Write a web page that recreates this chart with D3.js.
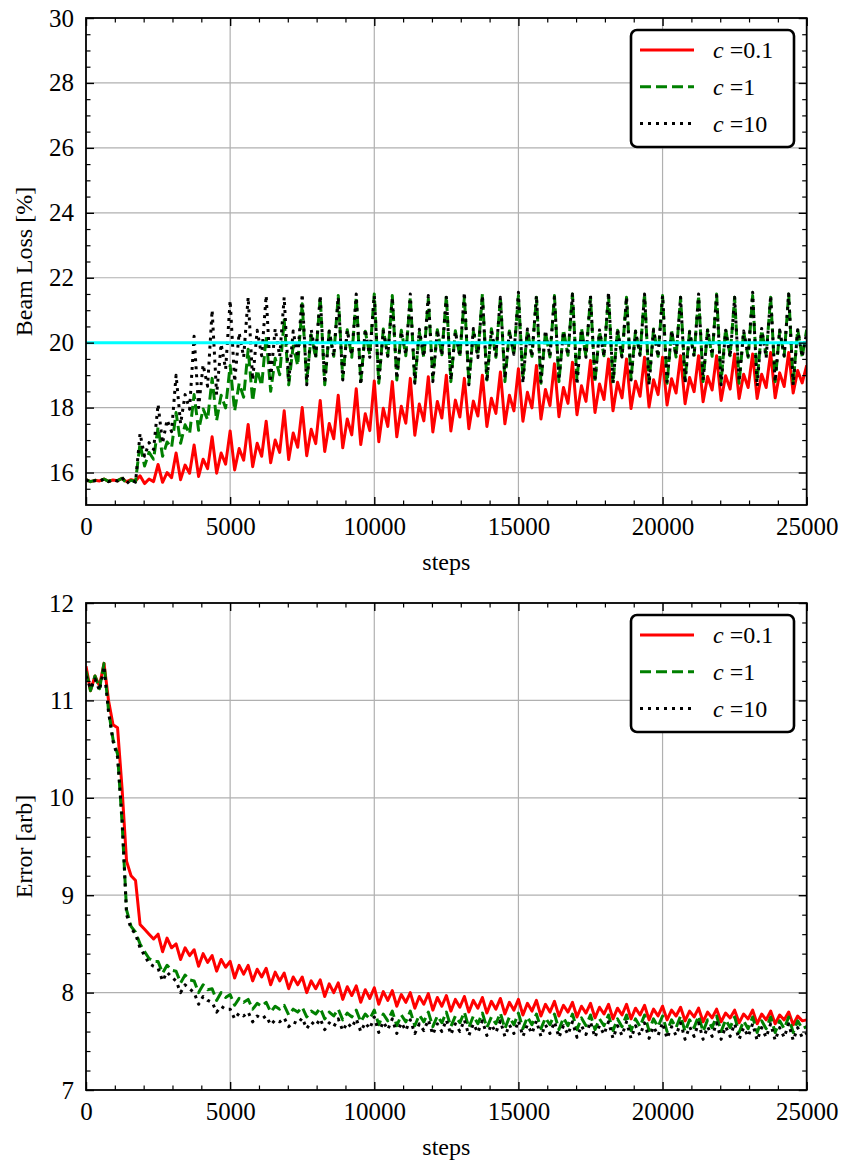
<!DOCTYPE html>
<html>
<head>
<meta charset="utf-8">
<script src="https://cdn.jsdelivr.net/npm/d3@7/dist/d3.min.js"></script>
<style>
  body { margin: 0; background: #fff; }
  text { font-family: "Liberation Serif", "DejaVu Serif", serif; fill: #000; }
</style>
</head>
<body>
<div id="chart"></div>
<script>
// DATA ----------------------------------------------
// runs are sampled every 156.25 steps (4 samples per 625 step cycle)
const steps = d3.range(161).map(i => i * 156.25);
const cValues = ["0.1", "1", "10"];
const targetLoss = 20;

const lossRed = [
  15.78, 15.72, 15.76, 15.74, 15.80, 15.73, 15.77, 15.75,
  15.82, 15.72, 15.78, 15.74, 15.90, 15.66, 15.80, 15.72,
  16.25, 15.70, 16.00, 15.84, 16.60, 15.78, 16.23, 15.98,
  16.85, 15.88, 16.41, 16.12, 17.10, 15.98, 16.60, 16.26,
  17.28, 16.08, 16.74, 16.38, 17.48, 16.18, 16.90, 16.50,
  17.58, 16.30, 17.00, 16.62, 17.90, 16.40, 17.22, 16.78,
  18.00, 16.52, 17.33, 16.89, 18.22, 16.65, 17.51, 17.04,
  18.38, 16.76, 17.65, 17.16, 18.58, 16.86, 17.81, 17.29,
  18.82, 16.95, 17.98, 17.42, 18.80, 17.10, 18.04, 17.52,
  18.90, 17.15, 18.11, 17.59, 18.95, 17.25, 18.19, 17.68,
  19.00, 17.28, 18.23, 17.71, 18.90, 17.35, 18.20, 17.74,
  19.00, 17.42, 18.29, 17.82, 19.10, 17.50, 18.38, 17.90,
  19.20, 17.58, 18.47, 17.99, 19.30, 17.65, 18.56, 18.06,
  19.35, 17.72, 18.62, 18.13, 19.40, 17.78, 18.67, 18.19,
  19.45, 17.85, 18.73, 18.25, 19.50, 17.90, 18.78, 18.30,
  19.50, 17.97, 18.81, 18.35, 19.55, 18.02, 18.86, 18.40,
  19.55, 18.08, 18.89, 18.45, 19.60, 18.12, 18.93, 18.49,
  19.60, 18.18, 18.96, 18.54, 19.60, 18.22, 18.98, 18.57,
  19.65, 18.28, 19.03, 18.62, 19.65, 18.28, 19.03, 18.62,
  19.70, 18.30, 19.07, 18.65, 19.70, 18.45, 19.14, 18.76,
  19.30];
const lossGreen = [
  15.78, 15.72, 15.76, 15.74, 15.80, 15.73, 15.77, 15.75,
  15.82, 15.68, 15.76, 15.72, 16.90, 16.20, 16.62, 16.41,
  17.40, 16.50, 16.94, 16.77, 17.85, 16.90, 17.47, 17.19,
  18.40, 17.30, 17.96, 17.63, 18.90, 17.60, 18.38, 17.99,
  19.30, 17.90, 18.74, 18.32, 19.80, 18.20, 19.16, 18.68,
  20.20, 18.50, 19.52, 19.01, 20.70, 18.70, 19.90, 19.30,
  21.20, 18.80, 20.24, 19.52, 21.40, 18.70, 20.36, 19.58,
  21.45, 18.90, 20.40, 19.55, 21.40, 18.80, 20.35, 19.62,
  21.50, 18.75, 20.42, 19.58, 21.45, 18.85, 20.38, 19.60,
  21.40, 18.80, 20.32, 19.55, 21.35, 18.90, 20.40, 19.63,
  21.45, 18.80, 20.37, 19.57, 21.40, 18.75, 20.34, 19.60,
  21.50, 18.85, 20.43, 19.55, 21.40, 18.80, 20.36, 19.62,
  21.45, 18.90, 20.39, 19.58, 21.40, 18.75, 20.33, 19.56,
  21.45, 18.80, 20.40, 19.61, 21.50, 18.85, 20.44, 19.57,
  21.40, 18.80, 20.35, 19.60, 21.45, 18.75, 20.38, 19.55,
  21.40, 18.90, 20.36, 19.63, 21.50, 18.80, 20.42, 19.58,
  21.45, 18.75, 20.37, 19.56, 21.40, 18.85, 20.35, 19.61,
  21.45, 18.80, 20.40, 19.58, 21.50, 18.80, 20.43, 19.60,
  21.40, 18.75, 20.34, 19.55, 21.45, 18.85, 20.39, 19.62,
  21.40, 18.80, 20.36, 19.58, 21.50, 18.75, 20.41, 19.57,
  20.40];
const lossBlack = [
  15.78, 15.70, 15.75, 15.73, 15.80, 15.72, 15.77, 15.74,
  15.85, 15.66, 15.78, 15.70, 17.20, 16.50, 16.92, 16.71,
  18.10, 16.90, 17.62, 17.26, 19.00, 17.50, 18.40, 17.95,
  20.20, 18.00, 19.32, 18.66, 21.00, 18.40, 19.96, 19.18,
  21.30, 18.80, 20.30, 19.55, 21.40, 18.85, 20.38, 19.60,
  21.45, 18.90, 20.43, 19.57, 21.40, 18.80, 20.36, 19.54,
  21.50, 18.70, 20.40, 19.60, 21.45, 18.75, 20.35, 19.58,
  21.40, 18.85, 20.38, 19.62, 21.50, 18.70, 20.42, 19.55,
  21.45, 18.80, 20.36, 19.59, 21.40, 18.90, 20.34, 19.63,
  21.50, 18.75, 20.41, 19.56, 21.45, 18.80, 20.39, 19.60,
  21.40, 18.85, 20.33, 19.58, 21.55, 18.70, 20.44, 19.54,
  21.45, 18.80, 20.37, 19.61, 21.40, 18.90, 20.35, 19.64,
  21.55, 18.75, 20.42, 19.57, 21.45, 18.80, 20.38, 19.59,
  21.40, 18.85, 20.34, 19.62, 21.50, 18.70, 20.41, 19.55,
  21.45, 18.80, 20.39, 19.58, 21.55, 18.75, 20.43, 19.56,
  21.40, 18.85, 20.35, 19.61, 21.50, 18.70, 20.40, 19.57,
  21.45, 18.80, 20.37, 19.60, 21.40, 18.75, 20.33, 19.58,
  21.50, 18.85, 20.42, 19.62, 21.45, 18.70, 20.38, 19.55,
  21.40, 18.80, 20.36, 19.59, 21.55, 18.65, 20.44, 19.53,
  21.45, 18.80, 20.39, 19.60, 21.50, 18.70, 20.40, 19.56,
  20.30];

const errRed = [
  11.35, 11.10, 11.25, 11.15, 11.38, 11.00, 10.75, 10.72,
  10.10, 9.35, 9.20, 9.15, 8.70, 8.65, 8.60, 8.55,
  8.60, 8.42, 8.56, 8.46, 8.50, 8.34, 8.46, 8.38,
  8.44, 8.27, 8.40, 8.31, 8.38, 8.22, 8.34, 8.26,
  8.32, 8.15, 8.28, 8.19, 8.28, 8.12, 8.24, 8.16,
  8.25, 8.08, 8.21, 8.12, 8.20, 8.04, 8.16, 8.08,
  8.16, 8.00, 8.12, 8.04, 8.13, 7.96, 8.09, 8.00,
  8.10, 7.93, 8.06, 7.97, 8.07, 7.90, 8.03, 7.94,
  8.05, 7.88, 8.01, 7.92, 8.02, 7.86, 7.98, 7.90,
  8.00, 7.84, 7.96, 7.88, 7.99, 7.82, 7.95, 7.86,
  7.97, 7.81, 7.93, 7.85, 7.96, 7.80, 7.92, 7.84,
  7.95, 7.79, 7.91, 7.83, 7.94, 7.78, 7.90, 7.82,
  7.93, 7.77, 7.89, 7.81, 7.92, 7.76, 7.88, 7.80,
  7.91, 7.76, 7.87, 7.80, 7.90, 7.75, 7.86, 7.79,
  7.89, 7.74, 7.85, 7.78, 7.88, 7.73, 7.84, 7.77,
  7.88, 7.73, 7.84, 7.77, 7.87, 7.72, 7.83, 7.76,
  7.86, 7.72, 7.82, 7.76, 7.85, 7.71, 7.81, 7.75,
  7.84, 7.70, 7.80, 7.74, 7.83, 7.70, 7.79, 7.74,
  7.82, 7.69, 7.78, 7.73, 7.82, 7.68, 7.78, 7.72,
  7.81, 7.68, 7.77, 7.72, 7.80, 7.67, 7.76, 7.71,
  7.72];
const errGreen = [
  11.30, 11.10, 11.25, 11.12, 11.38, 10.90, 10.60, 10.45,
  9.75, 8.85, 8.68, 8.62, 8.50, 8.42, 8.35, 8.32,
  8.32, 8.20, 8.28, 8.23, 8.22, 8.10, 8.18, 8.13,
  8.12, 8.00, 8.08, 8.03, 8.04, 7.92, 8.00, 7.95,
  7.98, 7.87, 7.94, 7.90, 7.93, 7.83, 7.89, 7.86,
  7.90, 7.80, 7.86, 7.83, 7.87, 7.77, 7.83, 7.80,
  7.85, 7.75, 7.81, 7.78, 7.84, 7.73, 7.80, 7.76,
  7.83, 7.72, 7.79, 7.75, 7.82, 7.70, 7.78, 7.73,
  7.82, 7.67, 7.78, 7.71, 7.81, 7.66, 7.77, 7.70,
  7.81, 7.66, 7.77, 7.70, 7.80, 7.65, 7.76, 7.69,
  7.80, 7.65, 7.76, 7.69, 7.80, 7.64, 7.76, 7.68,
  7.79, 7.64, 7.75, 7.68, 7.79, 7.63, 7.75, 7.67,
  7.79, 7.63, 7.75, 7.67, 7.78, 7.63, 7.74, 7.67,
  7.78, 7.62, 7.74, 7.66, 7.78, 7.62, 7.74, 7.66,
  7.77, 7.62, 7.73, 7.66, 7.77, 7.61, 7.73, 7.65,
  7.77, 7.61, 7.73, 7.65, 7.77, 7.61, 7.73, 7.65,
  7.76, 7.60, 7.72, 7.64, 7.76, 7.60, 7.72, 7.64,
  7.76, 7.60, 7.72, 7.64, 7.76, 7.60, 7.72, 7.64,
  7.75, 7.59, 7.71, 7.63, 7.75, 7.59, 7.71, 7.63,
  7.75, 7.59, 7.71, 7.63, 7.75, 7.59, 7.71, 7.63,
  7.65];
const errBlack = [
  11.25, 11.12, 11.22, 11.10, 11.35, 10.88, 10.58, 10.42,
  9.80, 8.80, 8.66, 8.60, 8.46, 8.38, 8.30, 8.27,
  8.25, 8.12, 8.21, 8.16, 8.12, 8.00, 8.08, 8.04,
  8.00, 7.88, 7.96, 7.92, 7.90, 7.80, 7.86, 7.83,
  7.83, 7.73, 7.79, 7.76, 7.80, 7.70, 7.76, 7.73,
  7.76, 7.67, 7.72, 7.70, 7.74, 7.65, 7.70, 7.68,
  7.74, 7.63, 7.70, 7.66, 7.73, 7.62, 7.69, 7.65,
  7.73, 7.61, 7.69, 7.64, 7.73, 7.60, 7.69, 7.63,
  7.75, 7.59, 7.70, 7.62, 7.73, 7.58, 7.69, 7.61,
  7.72, 7.58, 7.68, 7.61, 7.72, 7.57, 7.68, 7.60,
  7.72, 7.57, 7.68, 7.60, 7.72, 7.56, 7.68, 7.59,
  7.71, 7.56, 7.67, 7.59, 7.71, 7.55, 7.67, 7.58,
  7.71, 7.55, 7.67, 7.58, 7.71, 7.55, 7.67, 7.58,
  7.70, 7.54, 7.66, 7.57, 7.70, 7.54, 7.66, 7.57,
  7.70, 7.54, 7.66, 7.57, 7.70, 7.53, 7.66, 7.56,
  7.70, 7.53, 7.66, 7.56, 7.69, 7.53, 7.65, 7.56,
  7.69, 7.53, 7.65, 7.56, 7.69, 7.52, 7.65, 7.55,
  7.69, 7.52, 7.65, 7.55, 7.69, 7.52, 7.65, 7.55,
  7.68, 7.52, 7.64, 7.55, 7.68, 7.51, 7.64, 7.54,
  7.68, 7.51, 7.64, 7.54, 7.68, 7.51, 7.64, 7.54,
  7.58];

// LAYOUT --------------------------------------------
var margin = {left: 86},
    width = 720.7,
    height = 487;

var svg = d3.select("#chart")
    .append("svg")
        .attr("width", 843)
        .attr("height", 1165);

// line styles of the three runs
const styles = [
    {color: "#ff0000", dash: null},
    {color: "#008000", dash: "11,5"},
    {color: "#000000", dash: "3,5"}
];

drawPanel({
    id: "loss", top: 18, yDomain: [15, 30],
    yMajor: d3.range(16, 31, 2), yMinor: d3.range(15.5, 30, 0.5),
    label: "Beam Loss [%]", series: [lossRed, lossGreen, lossBlack], target: targetLoss
});
drawPanel({
    id: "err", top: 603, yDomain: [7, 12],
    yMajor: d3.range(7, 12.01, 1), yMinor: d3.range(7.2, 12, 0.2),
    label: "Error [arb]", series: [errRed, errGreen, errBlack], target: null
});

function drawPanel(opt) {
    var g = svg.append("g")
        .attr("transform", `translate(${margin.left},${opt.top})`);

    var x = d3.scaleLinear().domain([0, 25000]).range([0, width]);
    var y = d3.scaleLinear().domain(opt.yDomain).range([height, 0]);
    var xMajor = d3.range(0, 25001, 5000),
        xMinor = d3.range(1000, 25000, 1000).filter(v => v % 5000 != 0);
    var yMinor = opt.yMinor.filter(v => !opt.yMajor.some(m => Math.abs(m - v) < 1e-6));

    // grid
    g.append("g").selectAll("line")
        .data(xMajor.slice(1, -1))
        .join("line")
            .attr("x1", d => x(d)).attr("x2", d => x(d))
            .attr("y1", 0).attr("y2", height)
            .attr("stroke", "#b0b0b0").attr("stroke-width", 1.2);
    g.append("g").selectAll("line")
        .data(opt.yMajor.filter(v => v > opt.yDomain[0] && v < opt.yDomain[1]))
        .join("line")
            .attr("x1", 0).attr("x2", width)
            .attr("y1", d => y(d)).attr("y2", d => y(d))
            .attr("stroke", "#b0b0b0").attr("stroke-width", 1.2);

    // clip for the runs
    g.append("clipPath").attr("id", "clip-" + opt.id)
        .append("rect").attr("width", width).attr("height", height);

    var line = d3.line()
        .x((d, i) => x(steps[i]))
        .y(d => y(d));

    var plot = g.append("g").attr("clip-path", `url(#clip-${opt.id})`);
    opt.series.forEach((s, k) => {
        plot.append("path")
            .datum(s)
            .attr("fill", "none")
            .attr("stroke", styles[k].color)
            .attr("stroke-width", 3)
            .attr("stroke-linejoin", "round")
            .attr("stroke-dasharray", styles[k].dash)
            .attr("d", line);
    });

    // target beam loss
    if (opt.target != null) {
        plot.append("line")
            .attr("x1", 0).attr("x2", width)
            .attr("y1", y(opt.target)).attr("y2", y(opt.target))
            .attr("stroke", "#00ffff").attr("stroke-width", 3);
    }

    // axes, ticks pointing inwards on all four sides
    var axes = [
        {ax: d3.axisBottom(x), tr: `translate(0,${height})`, major: xMajor, minor: xMinor, lab: true},
        {ax: d3.axisTop(x), tr: null, major: xMajor, minor: xMinor, lab: false},
        {ax: d3.axisLeft(y), tr: null, major: opt.yMajor, minor: yMinor, lab: true},
        {ax: d3.axisRight(y), tr: `translate(${width},0)`, major: opt.yMajor, minor: yMinor, lab: false}
    ];
    axes.forEach(a => {
        var maj = g.append("g").attr("transform", a.tr)
            .attr("font-family", "Liberation Serif")
            .call(a.ax.tickValues(a.major).tickSize(-8).tickSizeOuter(0).tickPadding(12)
                .tickFormat(a.lab ? d3.format("d") : ""));
        maj.attr("font-family", "Liberation Serif");
        maj.select(".domain").remove();
        maj.selectAll("line").attr("stroke-width", 1.4);
        maj.selectAll("text").attr("font-size", 25);

        var mino = g.append("g").attr("transform", a.tr)
            .call(a.ax.tickValues(a.minor).tickSize(-4.5).tickFormat(""));
        mino.select(".domain").remove();
        mino.selectAll("line").attr("stroke-width", 1.2);
    });

    // frame
    g.append("rect")
        .attr("width", width).attr("height", height)
        .attr("fill", "none").attr("stroke", "#000").attr("stroke-width", 1.8);

    // axis labels
    g.append("text")
        .attr("x", width / 2).attr("y", height + 65)
        .attr("text-anchor", "middle").attr("font-size", 24)
        .text("steps");
    g.append("text")
        .attr("transform", `translate(-54,${height / 2}) rotate(-90)`)
        .attr("text-anchor", "middle").attr("font-size", 24)
        .text(opt.label);

    // legend
    var lg = g.append("g").attr("transform", "translate(545,12)");
    lg.append("rect")
        .attr("width", 163).attr("height", 117).attr("rx", 6)
        .attr("fill", "#fff").attr("stroke", "#000").attr("stroke-width", 2.6);
    cValues.forEach((c, k) => {
        var yy = 20 + k * 36.7;
        lg.append("line")
            .attr("x1", 9).attr("x2", 63).attr("y1", yy).attr("y2", yy)
            .attr("stroke", styles[k].color).attr("stroke-width", 3)
            .attr("stroke-dasharray", styles[k].dash);
        var t = lg.append("text")
            .attr("x", 82).attr("y", yy).attr("dy", "0.35em")
            .attr("font-size", 24);
        t.append("tspan").attr("font-style", "italic").text("c");
        t.append("tspan").text(" =" + c);
    });
}
</script>
</body>
</html>
